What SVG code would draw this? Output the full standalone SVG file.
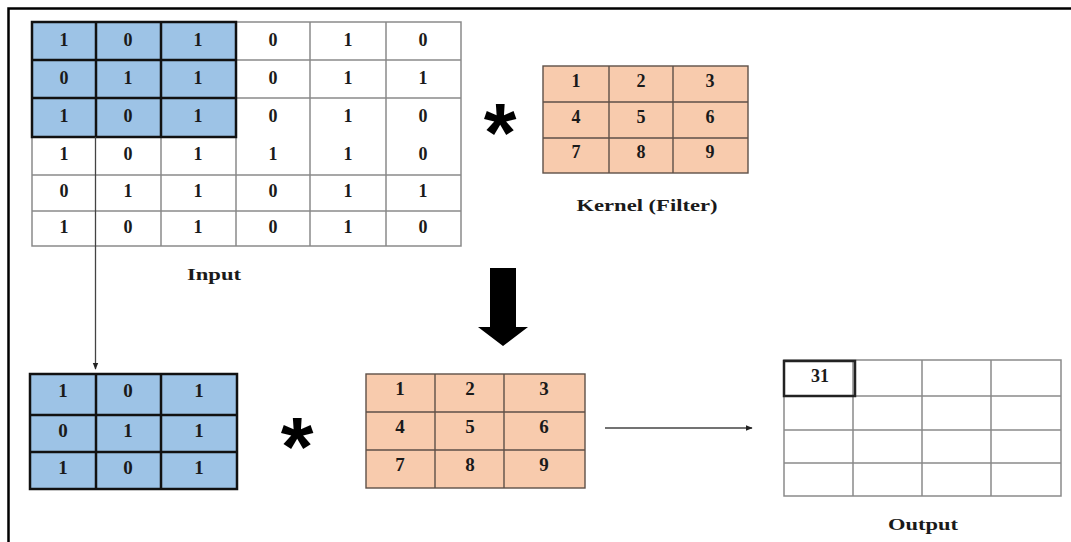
<svg xmlns="http://www.w3.org/2000/svg" width="1071" height="542" viewBox="0 0 1071 542">
  <style>
    .num { font-family: "Liberation Serif", "Times New Roman", serif; font-weight: bold; font-size: 18px; fill: #1a1a1a; text-anchor: middle; }
    .numL { font-family: "Liberation Serif", "Times New Roman", serif; font-weight: bold; font-size: 19px; fill: #1a1a1a; text-anchor: middle; }
    .lbl { font-family: "Liberation Serif", "Times New Roman", serif; font-weight: bold; font-size: 17px; fill: #1a1a1a; text-anchor: middle; }
    .star { font-family: "Liberation Sans", Arial, sans-serif; font-weight: bold; font-size: 84px; fill: #000; text-anchor: middle; }
    .gridGray { fill: none; stroke: #8a8a8a; stroke-width: 1.5; }
    .gridBlue { fill: #9DC3E6; stroke: #111; stroke-width: 2.5; }
    .gridPeach { fill: #F8CBAD; stroke: #5e5048; stroke-width: 1.4; }
    .conn { stroke: #444; stroke-width: 1.3; fill: none; }
  </style>
  <defs>
    <marker id="tip" viewBox="0 0 10 10" refX="9" refY="5" markerWidth="7" markerHeight="7" markerUnits="userSpaceOnUse" orient="auto">
      <path d="M0,1 L10,5 L0,9 Z" fill="#222"/>
    </marker>
  </defs>

  <rect width="1071" height="542" fill="#fff"/>
  <!-- page frame (left and top edges) -->
  <path d="M8.5,542 V8.5 H1071" fill="none" stroke="#000" stroke-width="2.5"/>

  <!-- 6x6 input matrix -->
  <g id="input">
    <rect x="32" y="22" width="429" height="224" fill="#fff"/>
    <rect x="32" y="22" width="204" height="115" fill="#9DC3E6"/>
    <path class="gridGray" d="M32,22 H461 V246 H32 Z M310,22 V246 M386,22 V246 M236,137 V246 M161,137 V246 M236,60 H461 M236,98 H461 M32,175 H461 M32,211 H461"/>
    <path d="M32,22 H236 V137 H32 Z M96,22 V137 M161,22 V137 M32,60 H236 M32,98 H236" fill="none" stroke="#111" stroke-width="2.5"/>
    <g class="num">
      <text x="64" y="46">1</text><text x="128" y="46">0</text><text x="198" y="46">1</text><text x="273" y="46">0</text><text x="348" y="46">1</text><text x="423" y="46">0</text>
      <text x="64" y="84">0</text><text x="128" y="84">1</text><text x="198" y="84">1</text><text x="273" y="84">0</text><text x="348" y="84">1</text><text x="423" y="84">1</text>
      <text x="64" y="122">1</text><text x="128" y="122">0</text><text x="198" y="122">1</text><text x="273" y="122">0</text><text x="348" y="122">1</text><text x="423" y="122">0</text>
      <text x="64" y="160">1</text><text x="128" y="160">0</text><text x="198" y="160">1</text><text x="273" y="160">1</text><text x="348" y="160">1</text><text x="423" y="160">0</text>
      <text x="64" y="197">0</text><text x="128" y="197">1</text><text x="198" y="197">1</text><text x="273" y="197">0</text><text x="348" y="197">1</text><text x="423" y="197">1</text>
      <text x="64" y="233">1</text><text x="128" y="233">0</text><text x="198" y="233">1</text><text x="273" y="233">0</text><text x="348" y="233">1</text><text x="423" y="233">0</text>
    </g>
    <text class="lbl" x="214" y="280" textLength="54" lengthAdjust="spacingAndGlyphs">Input</text>
  </g>

  <text class="star" x="500" y="162">*</text>

  <!-- 3x3 kernel -->
  <g id="kernel">
    <rect class="gridPeach" x="543" y="66" width="205" height="107"/>
    <path class="gridPeach" fill="none" d="M609,66 V173 M673,66 V173 M543,102 H748 M543,138 H748"/>
    <g class="num">
      <text x="576" y="87">1</text><text x="641" y="87">2</text><text x="710" y="87">3</text>
      <text x="576" y="123">4</text><text x="641" y="123">5</text><text x="710" y="123">6</text>
      <text x="576" y="158">7</text><text x="641" y="158">8</text><text x="710" y="158">9</text>
    </g>
    <text class="lbl" x="647" y="211" textLength="141" lengthAdjust="spacingAndGlyphs">Kernel (Filter)</text>
  </g>

  <!-- first 3x3 window -->
  <g id="window">
    <rect class="gridBlue" x="30" y="374" width="207" height="115"/>
    <path d="M96,374 V489 M161,374 V489 M30,415 H237 M30,452 H237" fill="none" stroke="#111" stroke-width="2.5"/>
    <g class="numL">
      <text x="63" y="397">1</text><text x="128" y="397">0</text><text x="199" y="397">1</text>
      <text x="63" y="437">0</text><text x="128" y="437">1</text><text x="199" y="437">1</text>
      <text x="63" y="474">1</text><text x="128" y="474">0</text><text x="199" y="474">1</text>
    </g>
  </g>

  <text class="star" x="297" y="476">*</text>

  <!-- kernel copy -->
  <g id="kernel2">
    <rect class="gridPeach" x="366" y="374" width="219" height="114"/>
    <path class="gridPeach" fill="none" d="M435,374 V488 M504,374 V488 M366,412 H585 M366,450 H585"/>
    <g class="numL">
      <text x="400" y="395">1</text><text x="470" y="395">2</text><text x="544" y="395">3</text>
      <text x="400" y="433">4</text><text x="470" y="433">5</text><text x="544" y="433">6</text>
      <text x="400" y="471">7</text><text x="470" y="471">8</text><text x="544" y="471">9</text>
    </g>
  </g>

  <!-- 4x4 output map -->
  <g id="output">
    <rect class="gridGray" x="784" y="360" width="277" height="136"/>
    <path class="gridGray" d="M853,360 V496 M922,360 V496 M991,360 V496 M784,396 H1061 M784,430 H1061 M784,463 H1061"/>
    <rect x="784" y="361" width="71" height="35" fill="none" stroke="#222" stroke-width="2.5"/>
    <text class="num" x="820" y="382">31</text>
    <text class="lbl" x="923" y="530" textLength="70" lengthAdjust="spacingAndGlyphs">Output</text>
  </g>

  <g id="connectors">
    <!-- the drop line doubles as the column rule below the window -->
    <line class="conn" x1="95.5" y1="137" x2="95.5" y2="369" marker-end="url(#tip)"/>
    <polygon points="490,268 516,268 516,327 528,327 503,346 478,327 490,327" fill="#000"/>
    <line class="conn" x1="605" y1="428" x2="752" y2="428" marker-end="url(#tip)"/>
  </g>
</svg>
